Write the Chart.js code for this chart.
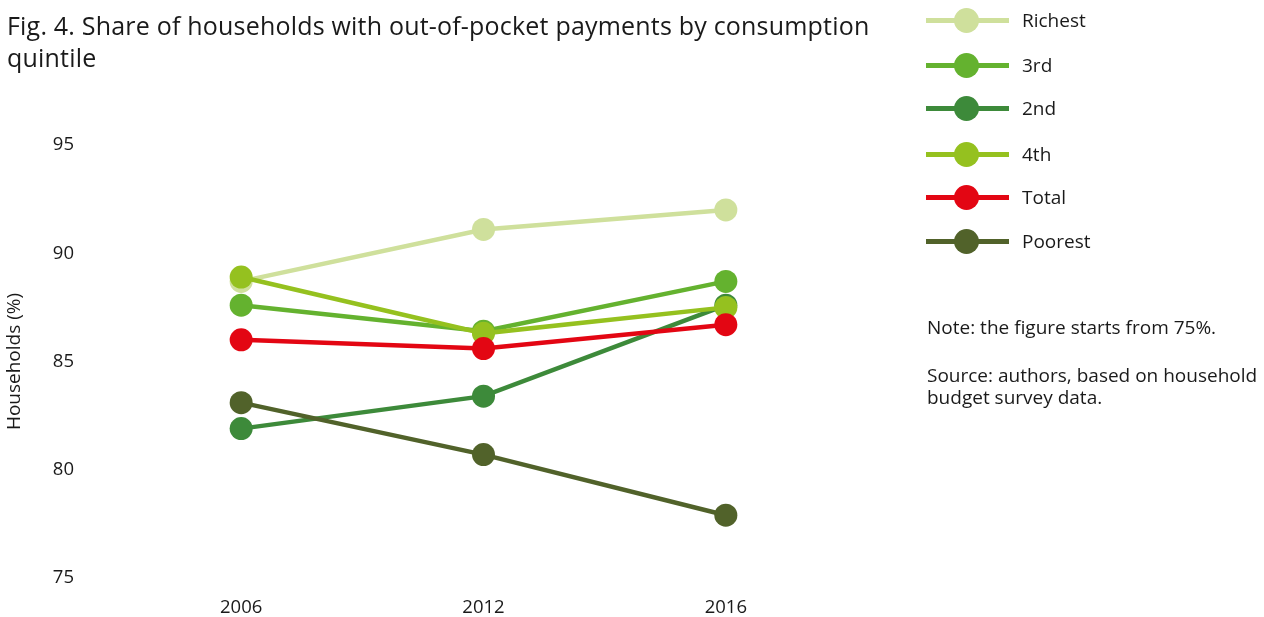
<!DOCTYPE html>
<html>
<head>
<meta charset="utf-8">
<script src="https://cdn.jsdelivr.net/npm/chart.js@4/dist/chart.umd.min.js"></script>
<style>
  html, body { margin: 0; padding: 0; background: #fff; }
  body { width: 1264px; height: 617px; position: relative; overflow: hidden; font-family: "Open Sans", "Noto Sans", sans-serif; color: #1a1a1a; }
  #wrap { position: absolute; left: 0; top: 0; width: 1264px; height: 617px; }
  #wrap canvas { display: block; }
  #title { position: absolute; left: 7px; top: 9px; font-size: 25px; line-height: 32px; color: #1a1a1a; white-space: nowrap; letter-spacing: 0.2px; }
  #legend { position: absolute; left: 926px; top: 0; }
  .li { position: absolute; left: 0; width: 320px; height: 30px; }
  .li .ln { position: absolute; left: 0; top: 13px; width: 83px; height: 5px; }
  .li .dot { position: absolute; left: 28px; top: 3px; width: 25px; height: 25px; border-radius: 50%; }
  .li .tx { position: absolute; left: 96px; top: 2px; font-size: 19px; line-height: 26px; }
  .note { position: absolute; left: 927px; font-size: 19px; line-height: 22px; white-space: nowrap; }
</style>
</head>
<body>
<div id="wrap"><canvas id="c" width="1264" height="617"></canvas></div>
<div id="title">Fig. 4. Share of households with out-of-pocket payments by consumption<br>quintile</div>
<div id="legend"></div>
<div class="note" style="top:316px;">Note: the figure starts from 75%.</div>
<div class="note" style="top:364px;">Source: authors, based on household<br>budget survey data.</div>
<script>
const years = ["2006", "2012", "2016"];
const seriesNames = ["Richest", "3rd", "2nd", "4th", "Total", "Poorest"];
const richest = [88.7, 91.1, 92.0];
const third   = [87.6, 86.4, 88.7];
const second  = [81.9, 83.4, 87.6];
const fourth  = [88.9, 86.3, 87.5];
const total   = [86.0, 85.6, 86.7];
const poorest = [83.1, 80.7, 77.9];
const yTicks  = [75, 80, 85, 90, 95];
const colors  = ["#cfe09c", "#64b22f", "#3d8a3a", "#95c11f", "#e30613", "#51622a"];
const values  = [richest, third, second, fourth, total, poorest];

const datasets = seriesNames.map((name, i) => ({
  label: name,
  data: values[i],
  borderColor: colors[i],
  backgroundColor: colors[i],
  pointBackgroundColor: colors[i],
  pointBorderColor: colors[i],
  borderWidth: 4.5,
  pointRadius: 11.5,
  pointHoverRadius: 11.5,
  pointBorderWidth: 0,
  tension: 0,
  clip: false,
  order: seriesNames.length - 1 - i
}));

new Chart(document.getElementById('c'), {
  type: 'line',
  data: { labels: years, datasets },
  options: {
    responsive: false,
    animation: false,
    devicePixelRatio: 1,
    layout: { padding: { left: 0, right: 417, top: 145, bottom: 0 } },
    plugins: { legend: { display: false }, tooltip: { enabled: false }, title: { display: false } },
    scales: {
      x: {
        type: 'category',
        offset: true,
        grid: { display: false, drawTicks: false },
        border: { display: false },
        ticks: { color: '#1a1a1a', font: { family: 'Open Sans', size: 18.5 }, padding: 19, maxRotation: 0 },
        afterFit(scale) { scale.height = 39; scale.paddingLeft = 0; scale.paddingRight = 0; }
      },
      y: {
        min: 75, max: 95,
        grid: { display: false, drawTicks: false },
        border: { display: false },
        afterBuildTicks(scale) { scale.ticks = yTicks.map(v => ({ value: v })); },
        ticks: { color: '#1a1a1a', font: { family: 'Open Sans', size: 18.5 }, padding: 46 },
        title: { display: true, text: 'Households (%)', color: '#1a1a1a', font: { family: 'Open Sans', size: 19 }, padding: { top: 3, bottom: 0 } },
        afterFit(scale) { scale.width = 120; scale.paddingTop = 0; scale.paddingBottom = 0; }
      }
    }
  }
});

const lg = document.getElementById('legend');
const legendTops = [5, 50, 93, 139, 182, 226];
seriesNames.forEach((name, i) => {
  const d = document.createElement('div');
  d.className = 'li';
  d.style.top = legendTops[i] + 'px';
  d.innerHTML = '<div class="ln" style="background:' + colors[i] + '"></div>' +
                '<div class="dot" style="background:' + colors[i] + '"></div>' +
                '<div class="tx">' + name + '</div>';
  lg.appendChild(d);
});
</script>
</body>
</html>
